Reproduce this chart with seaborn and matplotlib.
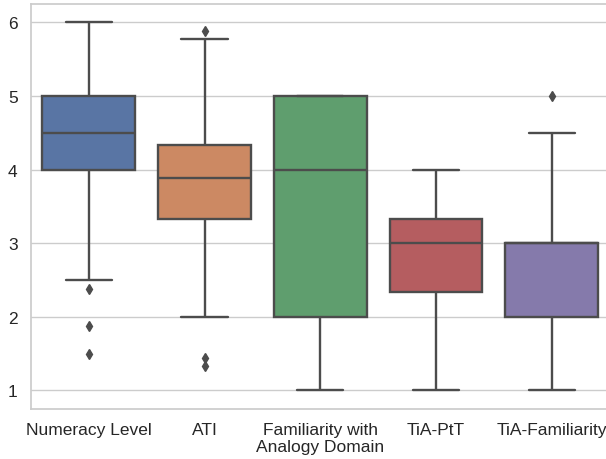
import pandas as pd
import numpy as np
import matplotlib
matplotlib.use("Agg")
import matplotlib.pyplot as plt
import seaborn as sns

# questionnaire scores per measure
numeracy = [1.5, 1.875, 2.375, 2.5, 4, 4, 4, 4.5, 4.5, 5, 5, 5, 5, 5, 5, 5.5, 6]
ati = [1.333, 1.444, 2.0, 3.0, 3.333, 3.556, 3.667, 3.778, 3.889, 4.0, 4.111,
       4.222, 4.333, 4.667, 5.0, 5.778, 5.889]
familiarity_domain = [1, 1, 2, 2, 2, 3, 3, 4, 4, 4, 5, 5, 5, 5, 5, 5, 5]
tia_ptt = [1, 1.667, 2, 2.333, 2.333, 2.667, 3, 3, 3, 3, 3.333, 3.333, 3.333,
           3.667, 3.667, 4, 4]
tia_familiarity = [1, 1, 1.5, 2, 2, 2, 2.5, 2.5, 3, 3, 3, 3, 3, 3.5, 4, 4.5, 5]

labels = ["Numeracy Level", "ATI", "Familiarity with\nAnalogy Domain",
          "TiA-PtT", "TiA-Familiarity"]

rows = []
for lab, vals in zip(labels, [numeracy, ati, familiarity_domain, tia_ptt, tia_familiarity]):
    for v in vals:
        rows.append((lab, v))
df = pd.DataFrame(rows, columns=["measure", "score"])

sns.set_theme(style="whitegrid")
plt.rcParams['font.family'] = ['Liberation Sans', 'DejaVu Sans']

fig = plt.figure(figsize=(6.06, 4.6), dpi=100)
ax = fig.add_axes([0.051, 0.109, 0.955, 0.88])
sns.boxplot(data=df, x="measure", y="score", hue="measure", palette="deep",
            saturation=0.75, width=0.8, linewidth=1.7, linecolor="#4c4c4c",
            fliersize=5, flierprops={"marker": "d", "markerfacecolor": "#4c4c4c",
                                     "markeredgecolor": "#4c4c4c"},
            legend=False, ax=ax)
ax.set_xlabel("")
ax.set_ylabel("")
ax.set_ylim(0.75, 6.25)
ax.set_yticks([1, 2, 3, 4, 5, 6])
ax.tick_params(axis="both", labelsize=12.5)
for s in ax.spines.values():
    s.set_color("#cccccc")

fig.savefig("out.png", dpi=100)
